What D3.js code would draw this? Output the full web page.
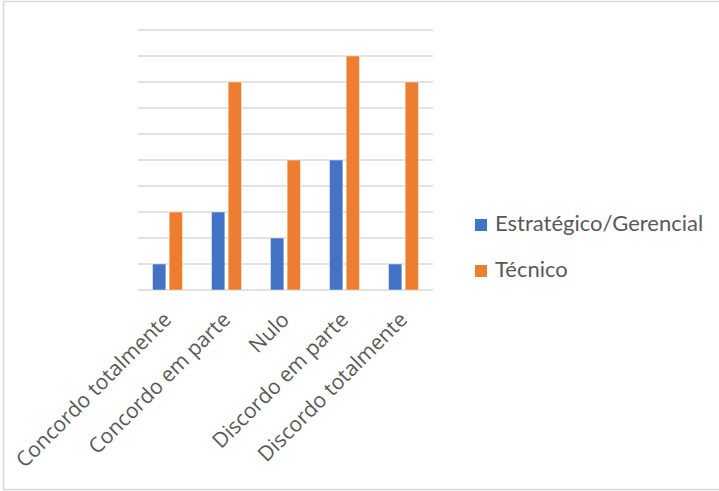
<!DOCTYPE html>
<html>
<head>
<meta charset="utf-8">
<script src="https://cdn.jsdelivr.net/npm/d3@7"></script>
<style>
  html, body { margin: 0; padding: 0; background: #fff; }
  svg { display: block; }
</style>
</head>
<body>
<svg id="chart" width="719" height="491"></svg>
<script>
// Response categories along the x axis
const categories = ["Concordo totalmente", "Concordo em parte", "Nulo", "Discordo em parte", "Discordo totalmente"];
// Series names
const seriesNames = ["Estratégico/Gerencial", "Técnico"];
// Counts per category for each series
const estrategicoValues = [1, 3, 2, 5, 1];
const tecnicoValues = [3, 8, 5, 9, 8];
// Gridline values
const gridTicks = [0, 1, 2, 3, 4, 5, 6, 7, 8, 9, 10];

const colors = { "Estratégico/Gerencial": "#4472C4", "Técnico": "#ED7D31" };
const seriesValues = { "Estratégico/Gerencial": estrategicoValues, "Técnico": tecnicoValues };

const svg = d3.select("#chart");

// Outer frame
svg.append("rect")
  .attr("x", 3.5).attr("y", 1.5)
  .attr("width", 730).attr("height", 488)
  .attr("fill", "none").attr("stroke", "#D9D9D9").attr("stroke-width", 1.5);

const plot = { left: 138, right: 433, top: 30, bottom: 290 };

const x0 = d3.scaleBand().domain(categories).range([plot.left, plot.right]).paddingInner(0).paddingOuter(0);
const x1 = d3.scaleBand().domain(seriesNames).range([14.5, x0.bandwidth() - 14.5]).paddingInner(0.2).paddingOuter(0);
const y = d3.scaleLinear().domain([0, 10]).range([plot.bottom, plot.top]);

// Horizontal gridlines
svg.append("g")
  .selectAll("line")
  .data(gridTicks)
  .join("line")
  .attr("x1", plot.left).attr("x2", plot.right)
  .attr("y1", d => y(d)).attr("y2", d => y(d))
  .attr("stroke", "#D9D9D9").attr("stroke-width", 1.5);

// Bars
const rows = categories.map((c, i) => ({ category: c, values: seriesNames.map(s => ({ series: s, value: seriesValues[s][i] })) }));

svg.append("g")
  .selectAll("g")
  .data(rows)
  .join("g")
  .attr("transform", d => `translate(${x0(d.category)},0)`)
  .selectAll("rect")
  .data(d => d.values)
  .join("rect")
  .attr("x", d => x1(d.series))
  .attr("y", d => y(d.value))
  .attr("width", x1.bandwidth())
  .attr("height", d => y(0) - y(d.value))
  .attr("fill", d => colors[d.series])
  .attr("stroke", "rgba(255,255,255,0.45)")
  .attr("stroke-width", 1);

// Category labels, rotated
svg.append("g")
  .selectAll("text")
  .data(categories)
  .join("text")
  .attr("transform", d => `translate(${x0(d) + x0.bandwidth() / 2 + 5},${plot.bottom + 31}) rotate(-45)`)
  .attr("text-anchor", "end")
  .attr("font-family", "'Open Sans', sans-serif")
  .attr("font-size", 21)
  .attr("fill", "#595959")
  .text(d => d);

// Legend
const legend = svg.append("g")
  .selectAll("g")
  .data(seriesNames)
  .join("g")
  .attr("transform", (d, i) => `translate(475,${219 + i * 46})`);

legend.append("rect")
  .attr("width", 12).attr("height", 12)
  .attr("fill", d => colors[d]);

legend.append("text")
  .attr("x", 20).attr("y", 12)
  .attr("font-family", "Lato, sans-serif")
  .attr("font-size", 22)
  .attr("fill", "#595959")
  .text(d => d);
</script>
</body>
</html>
